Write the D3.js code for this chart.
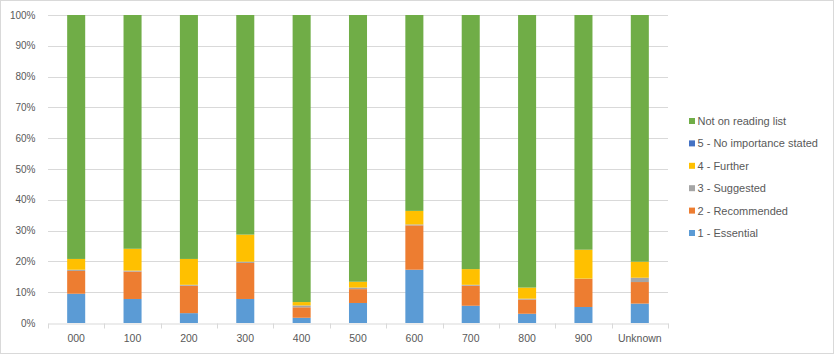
<!DOCTYPE html>
<html>
<head>
<meta charset="utf-8">
<script src="https://cdn.jsdelivr.net/npm/d3@7"></script>
<style>
  body { margin: 0; background: #ffffff; }
  #chart-div { width: 834px; height: 354px; }
</style>
</head>
<body>
<div id="chart-div"></div>
<script>
// --- Data (percent of items per class) ---
const categories = ['000', '100', '200', '300', '400', '500', '600', '700', '800', '900', 'Unknown'];
const essential   = [9.5, 7.8, 3.2, 7.8, 1.7, 6.5, 17.3, 5.6, 3.0, 5.2, 6.3];
const recommended = [7.4, 8.9, 8.9, 11.7, 3.4, 4.5, 14.4, 6.5, 4.6, 9.1, 7.0];
const suggested   = [0.4, 0.3, 0.3, 0.4, 0.6, 0.5, 0.3, 0.3, 0.3, 0.1, 1.4];
const further     = [3.5, 7.1, 8.4, 8.8, 1.1, 1.9, 4.4, 5.1, 3.6, 9.4, 5.2];
const noImportance = [0, 0, 0, 0, 0, 0, 0, 0, 0, 0, 0];
const notOnList   = [79.2, 75.9, 79.2, 71.3, 93.2, 86.6, 63.6, 82.5, 88.5, 76.2, 80.1];
const yTicks = [0, 10, 20, 30, 40, 50, 60, 70, 80, 90, 100];

const seriesNames = ['1 - Essential', '2 - Recommended', '3 - Suggested', '4 - Further',
  '5 - No importance stated', 'Not on reading list'];
const seriesValues = [essential, recommended, suggested, further, noImportance, notOnList];
const seriesColors = ['#5B9BD5', '#ED7D31', '#A5A5A5', '#FFC000', '#4472C4', '#70AD47'];

function drawChart() {
  const width = 834;
  const height = 354;
  const margin = { top: 15, right: 166, bottom: 31, left: 48 };
  const fontFamily = '"Liberation Sans", Arial, sans-serif';
  const textColor = '#595959';
  const gridColor = '#D9D9D9';

  const table = categories.map((c, i) => {
    const row = { category: c };
    seriesNames.forEach((s, j) => { row[s] = seriesValues[j][i]; });
    return row;
  });

  const stacked = d3.stack().keys(seriesNames)(table);

  const svg = d3.select('#chart-div')
    .append('svg')
    .attr('width', width)
    .attr('height', height)
    .style('font-family', fontFamily);

  // chart border
  svg.append('rect')
    .attr('x', 0.5).attr('y', 0.5)
    .attr('width', width - 1).attr('height', height - 1)
    .attr('fill', '#ffffff')
    .attr('stroke', gridColor);

  const x = d3.scaleBand()
    .domain(categories)
    .range([margin.left, width - margin.right])
    .paddingInner(0.68)
    .paddingOuter(0.34);

  const y = d3.scaleLinear()
    .domain([0, 100])
    .range([height - margin.bottom, margin.top]);

  // --- Gridlines ---
  svg.append('g')
    .selectAll('line')
    .data(yTicks.filter(t => t > 0))
    .enter().append('line')
    .attr('x1', margin.left)
    .attr('x2', width - margin.right)
    .attr('y1', d => Math.round(y(d)) + 0.5)
    .attr('y2', d => Math.round(y(d)) + 0.5)
    .attr('stroke', gridColor);

  // --- Y labels ---
  svg.append('g')
    .selectAll('text')
    .data(yTicks)
    .enter().append('text')
    .attr('x', 35.5)
    .attr('y', d => y(d) + 3.5)
    .attr('text-anchor', 'end')
    .style('font-size', '10px')
    .style('fill', textColor)
    .text(d => d + '%');

  // --- Bars ---
  svg.append('g')
    .selectAll('g')
    .data(stacked)
    .enter().append('g')
    .attr('fill', (d, i) => seriesColors[i])
    .selectAll('rect')
    .data(d => d)
    .enter().append('rect')
    .attr('x', d => x(d.data.category))
    .attr('y', d => y(d[1]))
    .attr('width', x.bandwidth())
    .attr('height', d => Math.max(0, y(d[0]) - y(d[1])));

  // --- X axis ---
  const xAxis = d3.axisBottom(x).tickSize(0).tickPadding(11);
  const gx = svg.append('g')
    .attr('transform', `translate(0, ${Math.round(y(0)) + 0.5})`)
    .call(xAxis);
  gx.select('.domain').attr('stroke', gridColor);
  gx.selectAll('text')
    .style('font-size', '10.5px')
    .style('font-family', fontFamily)
    .style('fill', textColor);

  // tick marks between categories
  const step = x.step();
  const ticksX = d3.range(categories.length + 1).map(i => margin.left + i * step);
  gx.selectAll('.sep')
    .data(ticksX)
    .enter().append('line')
    .attr('class', 'sep')
    .attr('x1', d => Math.round(d) + 0.5)
    .attr('x2', d => Math.round(d) + 0.5)
    .attr('y1', 0)
    .attr('y2', 5)
    .attr('stroke', gridColor);

  // --- Legend ---
  const legendOrder = seriesNames.map((s, i) => ({ name: s, color: seriesColors[i] })).reverse();
  const legend = svg.append('g')
    .attr('transform', 'translate(689, 121)');

  const item = legend.selectAll('g')
    .data(legendOrder)
    .enter().append('g')
    .attr('transform', (d, i) => `translate(0, ${i * 22.4})`);

  item.append('rect')
    .attr('x', 0).attr('y', -3)
    .attr('width', 6).attr('height', 6)
    .attr('fill', d => d.color);

  item.append('text')
    .attr('x', 8.5)
    .attr('y', 4)
    .style('font-size', '11px')
    .style('fill', textColor)
    .text(d => d.name);
}

drawChart();
</script>
</body>
</html>
